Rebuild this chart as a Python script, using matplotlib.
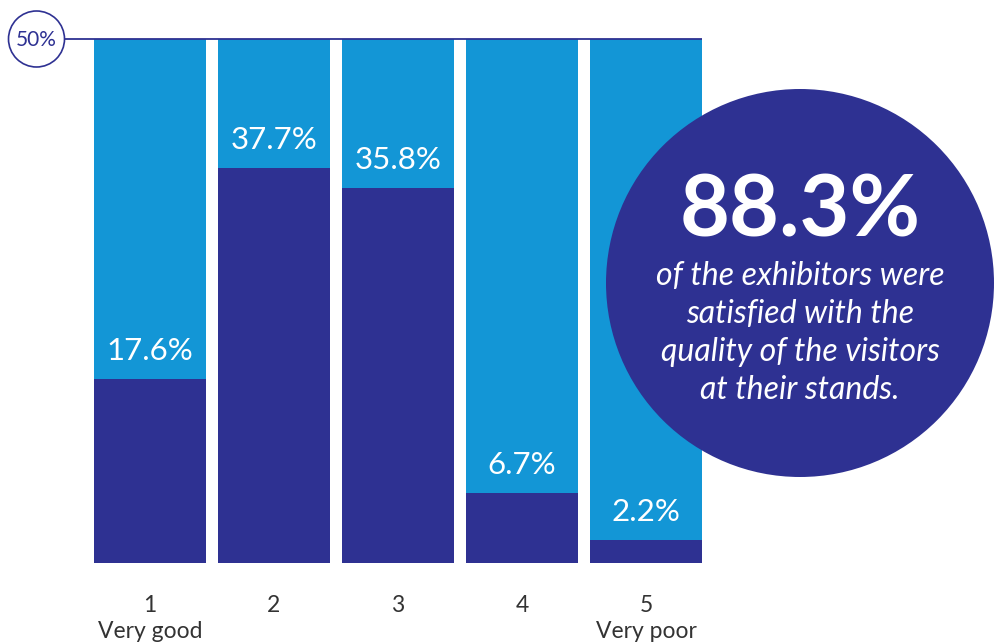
import matplotlib
matplotlib.use("Agg")
import matplotlib.pyplot as plt
from matplotlib.patches import Circle

categories = ["1", "2", "3", "4", "5"]
category_notes = ["Very good", "", "", "", "Very poor"]
values = [17.6, 37.7, 35.8, 6.7, 2.2]
scale_max = 50
value_labels = ["17.6%", "37.7%", "35.8%", "6.7%", "2.2%"]
headline = "88.3%"
headline_text = "of the exhibitors were\nsatisfied with the\nquality of the visitors\nat their stands."

LIGHT = "#1396D6"
NAVY = "#2E3192"
FONT = ["Lato", "DejaVu Sans"]
PT = 72 / 100  # points per pixel

W, H = 997, 643
fig = plt.figure(figsize=(W / 100, H / 100), dpi=100)

x0_px, step_px, barw_px = 150, 124, 112
y0_px, ytop_px = 563, 39
ppu = (y0_px - ytop_px) / scale_max

ax = fig.add_axes([0, 0, 1, 1])
ax.set_xlim(-x0_px / step_px, (W - x0_px) / step_px)
ax.set_ylim(-(H - y0_px) / ppu, scale_max + ytop_px / ppu)
ax.axis("off")

xs = list(range(len(values)))
bw = barw_px / step_px
ax.bar(xs, [scale_max] * len(values), width=bw, color=LIGHT, zorder=1)
ax.bar(xs, values, width=bw, color=NAVY, zorder=2)
for x, v, lab in zip(xs, values, value_labels):
    ax.annotate(lab, (x, v), xytext=(0, 19 * PT), textcoords="offset points",
                ha="center", va="baseline", color="white", fontsize=22.5,
                family=FONT, zorder=3)
for x, c, n in zip(xs, categories, category_notes):
    ax.annotate(c, (x, 0), xytext=(0, -42 * PT), textcoords="offset points",
                ha="center", va="center", color="#333333", fontsize=16.5, family=FONT)
    if n:
        ax.annotate(n, (x, 0), xytext=(0, -69 * PT), textcoords="offset points",
                    ha="center", va="center", color="#333333", fontsize=16.5, family=FONT)

x_line_start = (65 - x0_px) / step_px
ax.plot([x_line_start, xs[-1] + bw / 2], [scale_max, scale_max], color=NAVY, lw=1.3,
        zorder=4, solid_capstyle="butt")

ov = fig.add_axes([0, 0, 1, 1])
ov.set_xlim(0, W)
ov.set_ylim(H, 0)
ov.axis("off")
ov.patch.set_alpha(0)

ov.add_patch(Circle((36.5, 39), 28, facecolor="white", edgecolor=NAVY, lw=1.2))
ov.text(36.5, 40, "50%", ha="center", va="center", color=NAVY, fontsize=15, family=FONT)

ov.add_patch(Circle((800, 283), 194, facecolor=NAVY, edgecolor="none"))
ov.text(800, 212, headline, ha="center", va="center", color="white", fontsize=62,
        family=FONT, fontweight="bold")
ov.text(800, 333, headline_text, ha="center", va="center", color="white", fontsize=23,
        family=FONT, fontstyle="italic", linespacing=1.33)

fig.savefig("out.png", dpi=100)
